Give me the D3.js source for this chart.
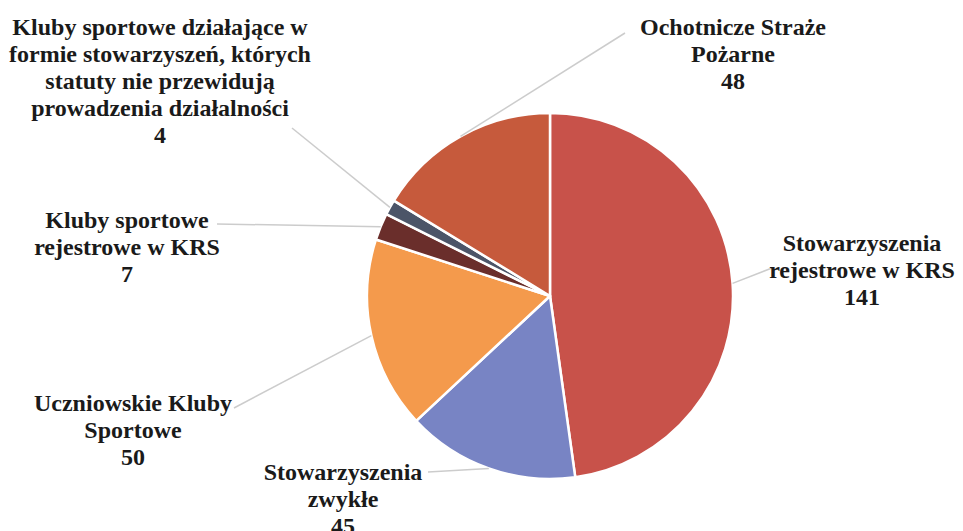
<!DOCTYPE html>
<html>
<head>
<meta charset="utf-8">
<script src="https://cdn.jsdelivr.net/npm/d3@7"></script>
<style>
  html, body { margin: 0; padding: 0; background: #fff; }
</style>
</head>
<body>
<svg id="chart" width="963" height="531"></svg>
<script>
'use strict';

const categories = [
  'Stowarzyszenia rejestrowe w KRS',
  'Stowarzyszenia zwykłe',
  'Uczniowskie Kluby Sportowe',
  'Kluby sportowe rejestrowe w KRS',
  'Kluby sportowe działające w formie stowarzyszeń, których statuty nie przewidują prowadzenia działalności',
  'Ochotnicze Straże Pożarne'
];
const values = [141, 45, 50, 7, 4, 48];
const labelLines = [
  ['Stowarzyszenia', 'rejestrowe w KRS'],
  ['Stowarzyszenia', 'zwykłe'],
  ['Uczniowskie Kluby', 'Sportowe'],
  ['Kluby sportowe', 'rejestrowe w KRS'],
  ['Kluby sportowe działające w', 'formie stowarzyszeń, których', 'statuty nie przewidują', 'prowadzenia działalności'],
  ['Ochotnicze Straże', 'Pożarne']
];
const colours = ['#C8524A', '#7884C4', '#F49A4C', '#6A2E2B', '#4C5568', '#C65A3C'];

// label layout: centre of first line and where the leader line meets the text
const labelPos = [
  {x: 862, y: 243, lx: 772, ly: 268},
  {x: 343, y: 472, lx: 428, ly: 472},
  {x: 133, y: 403, lx: 234, ly: 408},
  {x: 127, y: 220, lx: 217, ly: 224},
  {x: 160, y: 27, lx: 292, ly: 128},
  {x: 733, y: 27, lx: 625, ly: 33}
];

const cx = 550, cy = 296, radius = 183, lineHeight = 27;
const labelFont = "'Liberation Serif', 'Times New Roman', 'DejaVu Serif', serif";

const svg = d3.select('#chart');
const g = svg.append('g').attr('transform', 'translate(' + cx + ',' + cy + ')');

const pie = d3.pie().sort(null).value(d => d.value);
const arcs = pie(values.map((v, i) => ({name: categories[i], value: v, i})));

const arc = d3.arc().innerRadius(0).outerRadius(radius);
const edgeArc = d3.arc().innerRadius(radius).outerRadius(radius);

g.selectAll('path.slice')
  .data(arcs)
  .enter()
  .append('path')
  .attr('class', 'slice')
  .attr('d', arc)
  .attr('fill', d => colours[d.data.i])
  .attr('stroke', '#fff')
  .attr('stroke-width', 2.5)
  .attr('stroke-linejoin', 'round');

// leader lines
g.selectAll('line.leader')
  .data(arcs)
  .enter()
  .append('line')
  .attr('class', 'leader')
  .attr('x1', d => edgeArc.centroid(d)[0])
  .attr('y1', d => edgeArc.centroid(d)[1])
  .attr('x2', d => labelPos[d.data.i].lx - cx)
  .attr('y2', d => labelPos[d.data.i].ly - cy)
  .attr('stroke', '#cccccc')
  .attr('stroke-width', 1.5);

// labels
const labels = svg.selectAll('text.pie-label')
  .data(arcs)
  .enter()
  .append('text')
  .attr('class', 'pie-label')
  .attr('text-anchor', 'middle')
  .style('font-family', labelFont)
  .style('font-weight', '700')
  .style('font-size', '24px')
  .style('fill', '#1a1a1a')
  .attr('transform', d => 'translate(' + labelPos[d.data.i].x + ',' + labelPos[d.data.i].y + ')');

labels.each(function(d) {
  const t = d3.select(this);
  const lines = labelLines[d.data.i].concat([String(d.data.value)]);
  lines.forEach((ln, k) => {
    t.append('tspan')
      .attr('x', 0)
      .attr('y', k * lineHeight)
      .attr('dy', '0.35em')
      .text(ln);
  });
});
</script>
</body>
</html>
